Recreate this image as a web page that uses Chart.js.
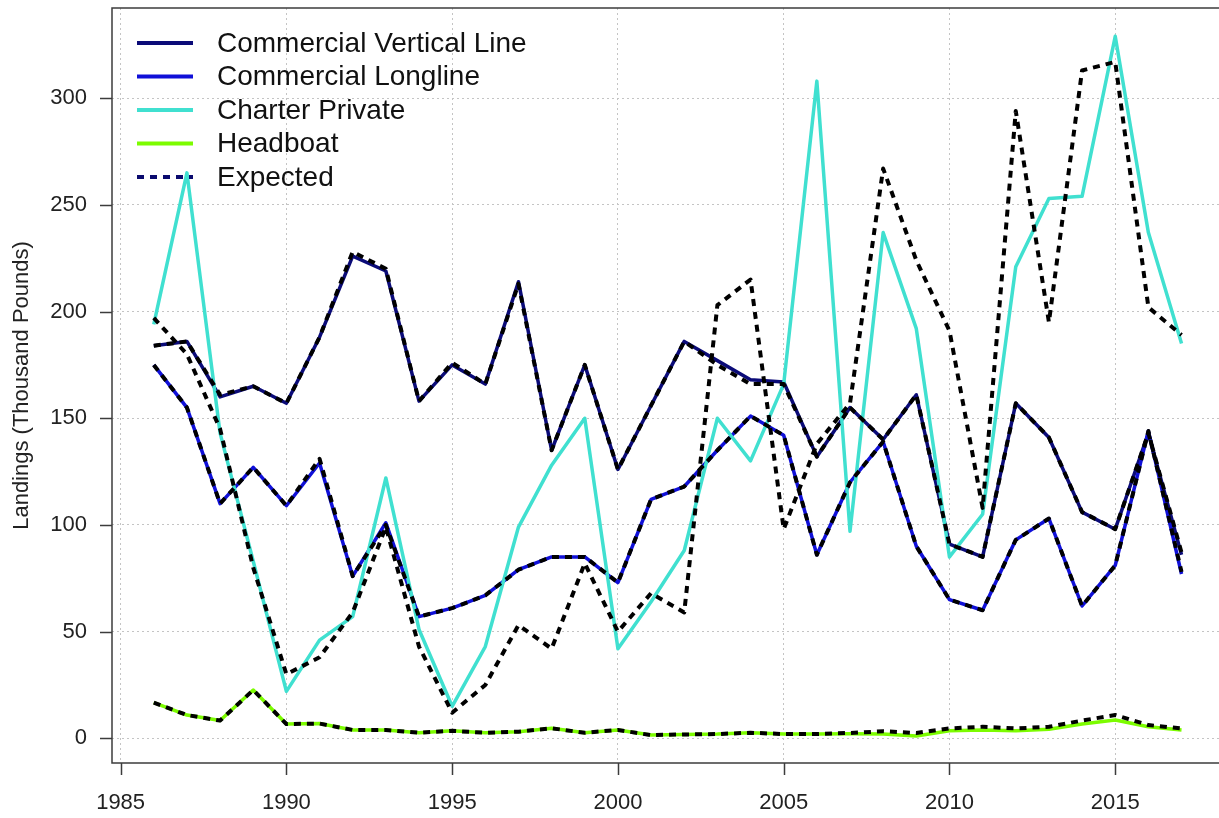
<!DOCTYPE html>
<html>
<head>
<meta charset="utf-8">
<script src="https://cdn.jsdelivr.net/npm/chart.js@4.4.0/dist/chart.umd.min.js"></script>
<style>
  html, body { margin: 0; padding: 0; background: #fff; }
  #wrap { width: 1219px; height: 818px; position: relative; }
</style>
</head>
<body>
<div id="wrap"><canvas id="landingsChart"></canvas></div>
<script>
// years on the x axis
const years = [1986, 1987, 1988, 1989, 1990, 1991, 1992, 1993, 1994, 1995, 1996,
               1997, 1998, 1999, 2000, 2001, 2002, 2003, 2004, 2005, 2006, 2007,
               2008, 2009, 2010, 2011, 2012, 2013, 2014, 2015, 2016, 2017];

// observed landings (thousand pounds)
const verticalLine = [184, 186, 160, 165, 157, 188, 226, 219, 158, 175, 166,
                      214, 135, 175, 126, 156, 186, 177, 168, 167, 132, 155,
                      140, 161, 91, 85, 157, 141, 106, 98, 143, 86];
const longline = [175, 155, 110, 127, 109, 129, 76, 101, 57, 61, 67,
                  79, 85, 85, 73, 112, 118, 135, 151, 142, 86, 120,
                  139, 90, 65, 60, 93, 103, 62, 81, 144, 77];
const charterPrivate = [194, 265, 143, 83, 22, 46, 57, 122, 51, 15, 43,
                        99, 128, 150, 42, 64, 88, 150, 130, 166, 308, 97,
                        237, 192, 85, 105, 221, 253, 254, 329, 237, 185];
const headboat = [16.7, 10.9, 8.3, 22.6, 6.7, 6.9, 3.9, 3.9, 2.6, 3.5, 2.6,
                  3.1, 4.7, 2.6, 3.9, 1.5, 1.8, 2.0, 2.6, 2.0, 2.0, 2.1,
                  2.0, 1.1, 3.5, 3.9, 3.5, 4.2, 6.7, 8.6, 5.4, 3.9];

// expected landings, one per sector
const expVerticalLine = [184, 186, 161, 165, 157, 188, 228, 220, 158, 176, 166,
                         213, 135, 175, 126, 156, 186, 175, 166, 166, 132, 155,
                         140, 161, 91, 85, 157, 141, 106, 98, 143, 87];
const expLongline = [175, 155, 110, 127, 109, 131, 76, 100, 57, 61, 67,
                     79, 85, 85, 73, 112, 118, 135, 151, 142, 86, 120,
                     139, 90, 65, 60, 93, 103, 62, 81, 144, 78];
const expCharterPrivate = [197, 180, 145, 80, 30, 38, 59, 99, 43, 12, 25,
                           53, 42, 82, 50, 68, 59, 203, 215, 98, 138, 157,
                           267, 224, 191, 108, 294, 195, 313, 317, 202, 189];
const expHeadboat = [16.7, 10.9, 8.3, 22.6, 6.7, 6.9, 3.9, 3.9, 2.6, 3.5, 2.6,
                     3.1, 4.7, 2.6, 3.9, 1.5, 1.8, 2.0, 2.6, 2.0, 2.0, 2.5,
                     3.3, 2.5, 4.6, 5.4, 4.6, 5.4, 8.3, 10.9, 6.2, 4.6];

// tick labels
const xTicks = [1985, 1990, 1995, 2000, 2005, 2010, 2015];
const yTicks = [0, 50, 100, 150, 200, 250, 300];

const FONT = '"Liberation Sans", Arial, sans-serif';
const toPoints = vals => vals.map((v, i) => ({ x: years[i], y: v }));

function solid(label, vals, color, order) {
    return {
        label: label,
        data: toPoints(vals),
        borderColor: color,
        backgroundColor: color,
        borderWidth: 3.5,
        pointRadius: 0,
        tension: 0,
        borderJoinStyle: 'round',
        order: order,
        inLegend: true
    };
}

function expected(vals, inLegend) {
    return {
        label: 'Expected',
        data: toPoints(vals),
        borderColor: '#000000',
        legendColor: '#0a0a6e',
        borderWidth: 4,
        borderDash: [7, 6],
        pointRadius: 0,
        tension: 0,
        borderJoinStyle: 'round',
        order: 0,
        inLegend: inLegend
    };
}

// frame, tick marks and the legend drawn inside the plot region
const frameAndLegend = {
    id: 'frameAndLegend',
    afterDraw(chart) {
        const { ctx, chartArea: a, scales: { x, y } } = chart;
        ctx.save();
        ctx.setLineDash([]);
        ctx.strokeStyle = '#3c3c3c';
        ctx.lineWidth = 1.5;
        ctx.beginPath();
        ctx.moveTo(a.right + 4, a.top);
        ctx.lineTo(a.left, a.top);
        ctx.lineTo(a.left, a.bottom);
        ctx.lineTo(a.right + 4, a.bottom);
        yTicks.forEach(v => {
            const py = Math.round(y.getPixelForValue(v)) + 0.5;
            ctx.moveTo(a.left - 12, py);
            ctx.lineTo(a.left, py);
        });
        xTicks.forEach(v => {
            const px = Math.round(x.getPixelForValue(v)) + 0.5;
            ctx.moveTo(px, a.bottom);
            ctx.lineTo(px, a.bottom + 12);
        });
        ctx.stroke();

        // legend
        const items = chart.data.datasets.filter(d => d.inLegend);
        ctx.font = '28px ' + FONT;
        ctx.textBaseline = 'middle';
        ctx.textAlign = 'left';
        items.forEach((d, i) => {
            const ly = a.top + 35 + i * 33.5;
            ctx.beginPath();
            ctx.strokeStyle = d.legendColor || d.borderColor;
            ctx.lineWidth = 4;
            ctx.setLineDash(d.borderDash || []);
            ctx.moveTo(a.left + 25, ly);
            ctx.lineTo(a.left + 81, ly);
            ctx.stroke();
            ctx.setLineDash([]);
            ctx.fillStyle = '#111';
            ctx.fillText(d.label, a.left + 105, ly + 1);
        });
        ctx.restore();
    }
};

const ctx = document.getElementById('landingsChart').getContext('2d');

let landingsChart = new Chart(ctx, {
    type: 'line',
    data: {
        datasets: [
            solid('Commercial Vertical Line', verticalLine, '#0b0b78', 4),
            solid('Commercial Longline', longline, '#1010d8', 3),
            solid('Charter Private', charterPrivate, '#40e0d0', 2),
            solid('Headboat', headboat, '#7cfc00', 1),
            expected(expVerticalLine, true),
            expected(expLongline, false),
            expected(expCharterPrivate, false),
            expected(expHeadboat, false)
        ]
    },
    options: {
        responsive: true,
        maintainAspectRatio: false,
        animation: false,
        layout: { padding: { top: 8, right: 0, left: 0, bottom: 0 } },
        plugins: {
            legend: { display: false },
            tooltip: { enabled: false }
        },
        scales: {
            x: {
                type: 'linear',
                min: 1984.74,
                max: 2018.13,
                afterBuildTicks: s => { s.ticks = xTicks.map(v => ({ value: v })); },
                afterFit: s => { s.height = 55; s.paddingLeft = 0; s.paddingRight = 0; },
                grid: {
                    color: '#c4c4c4',
                    lineWidth: 1,
                    drawTicks: false
                },
                border: { display: false, dash: [2, 3] },
                ticks: {
                    autoSkip: false,
                    maxRotation: 0,
                    padding: 27,
                    color: '#222',
                    font: { family: FONT, size: 22 },
                    callback: v => String(v)
                }
            },
            y: {
                min: -11.58,
                max: 342.27,
                afterBuildTicks: s => { s.ticks = yTicks.map(v => ({ value: v })); },
                afterFit: s => { s.width = 112; s.paddingTop = 0; s.paddingBottom = 0; },
                grid: {
                    color: '#c4c4c4',
                    lineWidth: 1,
                    drawTicks: false
                },
                border: { display: false, dash: [2, 3] },
                title: {
                    display: true,
                    text: 'Landings (Thousand Pounds)',
                    color: '#222',
                    padding: { top: 9, bottom: 0 },
                    font: { family: FONT, size: 22 }
                },
                ticks: {
                    padding: 25,
                    color: '#222',
                    font: { family: FONT, size: 22 },
                    callback: v => String(v)
                }
            }
        }
    },
    plugins: [frameAndLegend]
});
</script>
</body>
</html>
